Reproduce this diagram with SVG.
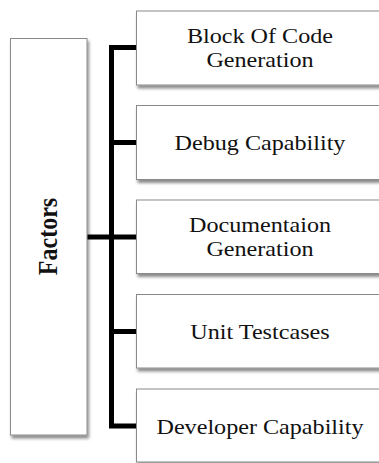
<svg xmlns="http://www.w3.org/2000/svg" width="379" height="463" viewBox="0 0 379 463">
  <defs>
    <filter id="shadow" x="-10%" y="-10%" width="130%" height="130%">
      <feDropShadow dx="1.5" dy="3" stdDeviation="1.5" flood-color="#000" flood-opacity="0.45"/>
    </filter>
  </defs>
  <style>
    .box { fill: #fff; stroke: #8a8a8a; stroke-width: 1; filter: url(#shadow); }
    .label { font-family: "Liberation Serif", "Times New Roman", serif; font-size: 21px; fill: #111; text-anchor: middle; }
    .title { font-family: "Liberation Serif", "Times New Roman", serif; font-size: 24px; font-weight: bold; fill: #111; text-anchor: middle; }
    .wire { fill: none; stroke: #000; stroke-width: 5; stroke-linejoin: miter; stroke-linecap: butt; }
  </style>

  <rect width="379" height="463" fill="#fff"/>

  <!-- connectors: trunk with branches to each factor -->
  <g id="connectors">
    <path class="wire" d="M87,237 H112"/>
    <path class="wire" d="M136.5,47.5 H111.5 V426 H136.5"/>
    <path class="wire" d="M111.5,142.5 H136.5"/>
    <path class="wire" d="M111.5,237 H136.5"/>
    <path class="wire" d="M111.5,331.5 H136.5"/>
  </g>

  <g id="factors">
    <rect class="box" x="10.5" y="38.5" width="76.5" height="396.5"/>
    <text class="title" transform="translate(56.5,236.5) scale(1.15,1) rotate(-90)">Factors</text>
  </g>

  <g id="block-of-code">
    <rect class="box" x="136.5" y="11" width="260" height="74"/>
    <text class="label" transform="translate(260,43) scale(1.15,1)">Block Of Code</text>
    <text class="label" transform="translate(260,67) scale(1.15,1)">Generation</text>
  </g>

  <g id="debug-capability">
    <rect class="box" x="136.5" y="105.5" width="260" height="74"/>
    <text class="label" transform="translate(260,150) scale(1.15,1)">Debug Capability</text>
  </g>

  <g id="documentation">
    <rect class="box" x="136.5" y="200" width="260" height="73.5"/>
    <text class="label" transform="translate(260,231.5) scale(1.15,1)">Documentaion</text>
    <text class="label" transform="translate(260,256) scale(1.15,1)">Generation</text>
  </g>

  <g id="unit-testcases">
    <rect class="box" x="136.5" y="294.5" width="260" height="73.5"/>
    <text class="label" transform="translate(260,339) scale(1.15,1)">Unit Testcases</text>
  </g>

  <g id="developer-capability">
    <rect class="box" x="136.5" y="389" width="260" height="73"/>
    <text class="label" transform="translate(260,434) scale(1.15,1)">Developer Capability</text>
  </g>
</svg>
